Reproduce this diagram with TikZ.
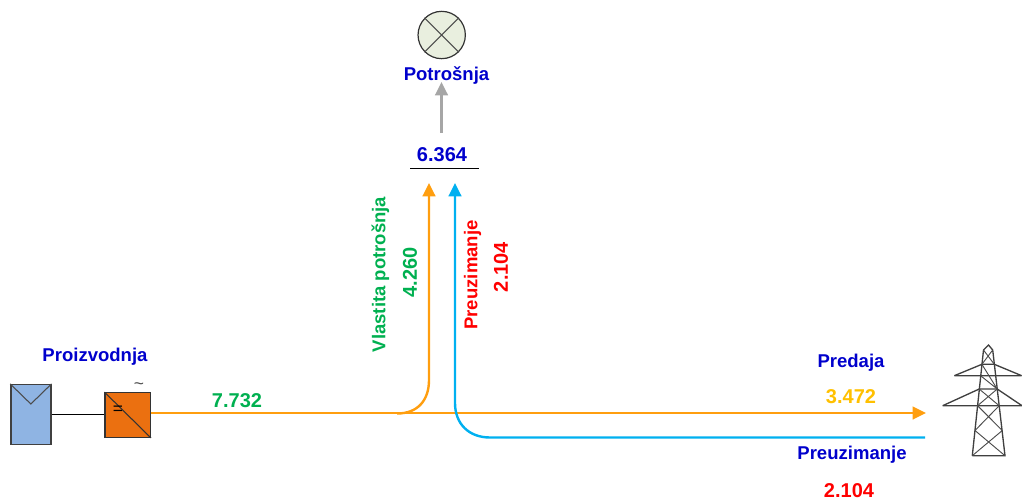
\documentclass[tikz,border=0pt]{standalone}
\usepackage{fontspec}
\setmainfont{Liberation Sans}
\usetikzlibrary{arrows.meta}
\definecolor{lblue}{HTML}{0000CC}
\definecolor{lgreen}{HTML}{00B050}
\definecolor{lgold}{HTML}{FFC000}
\definecolor{lorange}{HTML}{FF9E0F}
\definecolor{lcyan}{HTML}{00B0F0}
\definecolor{lgrey}{HTML}{A6A6A6}
\definecolor{lpanel}{HTML}{8FB4E3}
\definecolor{linv}{HTML}{EB7010}
\definecolor{llamp}{HTML}{E9EFDF}
\tikzset{
  lab/.style={font=\bfseries\fontsize{13.9}{15}\selectfont,inner sep=0pt},
  num/.style={font=\bfseries\fontsize{15}{16}\selectfont,inner sep=0pt},
  flow/.style={line width=1.8pt},
  headed/.style={-{Triangle[length=10pt,width=9.5pt]}},
  tower/.style={draw=black!75,line width=1pt},
  thintower/.style={draw=black!70,line width=0.7pt}
}
\begin{document}
\begin{tikzpicture}[x=0.75pt,y=-0.75pt]
\useasboundingbox (0,0) rectangle (1022,501);
% lamp
\node (lamp) at (441.7,35) [circle,draw=black!80,line width=0.9pt,fill=llamp,minimum size=35.5pt,inner sep=0pt] {};
\draw[black!70,line width=0.8pt] (lamp.45) -- (lamp.225) (lamp.135) -- (lamp.315);
\node[lab,text=lblue] (potr) at (446.5,75) {Potrošnja};
\node[num,text=lblue] (sum) at (442,155) {6.364};
\coordinate (ruleL) at (410,168.5);
\coordinate (ruleR) at (479,168.5);
\draw[black,line width=0.9pt] (ruleL) -- (ruleR);
\coordinate (greyS) at (441.5,133);
\coordinate (greyE) at (441.5,82);
\draw[lgrey,flow,headed] (greyS) -- (greyE);
% PV panel
\node (pv) at (30.85,414.5) [draw=black!75,line width=1pt,fill=lpanel,minimum width=30pt,minimum height=45pt,inner sep=0pt] {};
\coordinate (pvv) at (30.85,404);
\draw[black!70,line width=0.8pt] (pv.north west) -- (pvv) -- (pv.north east);
% inverter
\node (inv) at (127.7,415) [draw=black!80,line width=0.9pt,fill=linv,minimum width=34pt,minimum height=33.5pt,inner sep=0pt] {};
\draw[black!80,line width=0.8pt] (inv.north west) -- (inv.south east);
\node[inner sep=0pt,font=\fontsize{13}{14}\selectfont] (eq) at (118,410.5) {=};
\node[inner sep=0pt,font=\fontsize{13}{14}\selectfont,text=black!70] (tilde) at (139,386) {\textasciitilde};
\draw[black,line width=0.8pt] (pv.east |- 0,414.5) -- (inv.west |- 0,414.5);
% flows
\coordinate (mainS) at (150.5,413);
\coordinate (mainE) at (926,413);
\coordinate (upS) at (397,413.5);
\coordinate (upE) at (429,183);
\coordinate (blS) at (925,437.5);
\coordinate (blE) at (455,183);
\draw[lorange,flow,line width=1.7pt,headed] (mainS) -- (mainE);
\draw[lorange,flow,headed] (upS) .. controls (418,413.5) and (429,400) .. (429,380) -- (upE);
\draw[lcyan,flow,headed] (blS) -- (490,437.5) .. controls (469,437.5) and (455,424) .. (455,403) -- (blE);
% labels
\node[lab,text=lblue] (proiz) at (95,357) {Proizvodnja};
\node[num,text=lgreen] (v1) at (237,401) {7.732};
\node[lab,text=lblue] (pred) at (851,363) {Predaja};
\node[num,text=lgold] (v2) at (851,397) {3.472};
\node[lab,text=lblue] (preu) at (852,455) {Preuzimanje};
\node[num,text=red] (v3) at (849,490.5) {2.104};
\node[lab,text=lgreen,rotate=90] (vl) at (380.5,274.5) {Vlastita potrošnja};
\node[num,text=lgreen,rotate=90] (v4) at (410,272.5) {4.260};
\node[lab,text=red,rotate=90] (pr2) at (472.5,275) {Preuzimanje};
\node[num,text=red,rotate=90] (v5) at (501,267) {2.104};
% pylon
\coordinate (top) at (988.5,345);
\coordinate (tl) at (983.5,350);
\coordinate (tr) at (992.7,350);
\coordinate (bl) at (972.3,455.7);
\coordinate (br) at (1005,455.7);
\coordinate (a1l) at (981.9,364.3);
\coordinate (a1r) at (994.3,364.3);
\coordinate (a2l) at (979.2,389);
\coordinate (a2r) at (997.2,389);
\coordinate (a3l) at (977.6,405.7);
\coordinate (a3r) at (999.2,405.7);
\coordinate (a4l) at (975,430.5);
\coordinate (a4r) at (1002.3,430.5);
\draw[tower] (bl) -- (tl) -- (top) -- (tr) -- (br) -- (bl);
\draw[tower] (954.3,375.7) -- (1021.7,375.7) (954.3,375.7) -- (a1l) -- (a1r) -- (1021.7,375.7);
\draw[tower] (942.7,405.7) -- (1022,405.7) (942.7,405.7) -- (a2l) -- (a2r) -- (1022,405.7);
\draw[thintower] (tl) -- (a1r) (tr) -- (a1l) (a1l) -- (a2r) (980.6,375.7) -- (a2r);
\draw[thintower] (a2l) -- (a3r) (a2r) -- (a3l) (a3l) -- (a4r) (a3r) -- (a4l) (a4l) -- (br) (a4r) -- (bl);
\end{tikzpicture}
\end{document}
